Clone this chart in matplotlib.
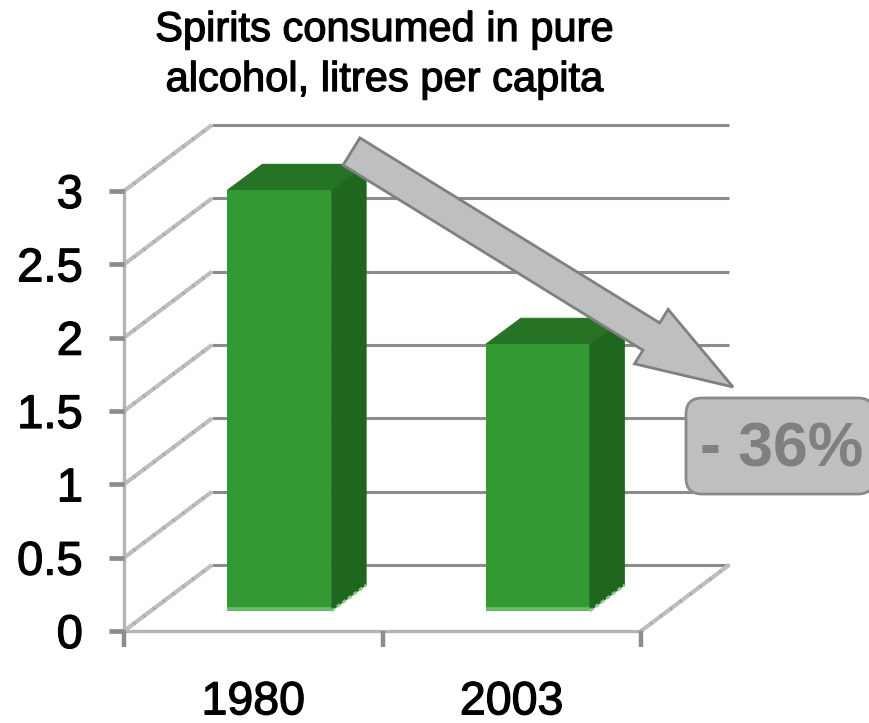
import matplotlib
matplotlib.use("Agg")
import matplotlib.pyplot as plt
import matplotlib.patheffects as pe
from matplotlib.patches import FancyArrow, FancyBboxPatch, Polygon
from matplotlib.transforms import Affine2D

years = ["1980", "2003"]
spirits_litres = [2.87, 1.82]
y_ticks = [0, 0.5, 1, 1.5, 2, 2.5, 3]
y_labels = ["0", "0.5", "1", "1.5", "2", "2.5", "3"]
title_lines = ["Spirits consumed in pure", "alcohol, litres per capita"]
change_text = "- 36%"

W, H = 869, 723
plt.rcParams["font.family"] = ["Liberation Sans", "DejaVu Sans"]
fig = plt.figure(figsize=(W / 100, H / 100), dpi=100, facecolor="white")
ax = fig.add_axes([124 / W, 1 - 631 / H, (641 - 124) / W, (631 - 191) / H])
ax.set_xlim(0, 2)
ax.set_ylim(0, 3)
ax.patch.set_alpha(0)

# Oblique offsets of the chart walls and of the bars, in data units
wall_dx, wall_dy = 2 * 88 / 517, 3 * 66 / 440
bar_dx, bar_dy = 2 * 35 / 517, 3 * 26 / 440
bar_width = 2 * 104 / 517
bar_shift = 2 * 26 / 517
bar_floor = 3 * 20 / 440

GRID = "#8c8c8c"
WALL = "#bebebe"
FRONT, SIDE, TOP = "#339933", "#1f661f", "#267326"


def wall_edge(x0, y0):
    """Draw one hatched oblique edge of the chart's side wall or floor."""
    xs, ys = [x0, x0 + wall_dx], [y0, y0 + wall_dy]
    ax.plot(xs, ys, color=WALL, lw=3.0, clip_on=False, zorder=1.1, solid_capstyle="butt")
    ax.plot(xs, ys, color="#a4a4a4", lw=2.6, clip_on=False, zorder=1.2, dashes=(0.4, 3))


for v in y_ticks:
    ax.plot([wall_dx, 2 + wall_dx], [v + wall_dy] * 2, color=GRID,
            lw=2.2, clip_on=False, zorder=1, solid_capstyle="butt")
    wall_edge(0, v)
wall_edge(2, 0)

centers = [i + 0.5 + bar_shift for i in range(len(years))]
ax.bar(centers, spirits_litres, width=bar_width, bottom=bar_floor, color=FRONT, zorder=3,
       clip_on=False)
for c, v in zip(centers, spirits_litres):
    l, r = c - bar_width / 2, c + bar_width / 2
    t = bar_floor + v
    ax.add_patch(Polygon([(r, bar_floor), (r + bar_dx, bar_floor + bar_dy),
                          (r + bar_dx, t + bar_dy), (r, t)], fc=SIDE, ec=SIDE, lw=0.4,
                         clip_on=False, zorder=3))
    ax.add_patch(Polygon([(l, t), (l + bar_dx, t + bar_dy), (r + bar_dx, t + bar_dy), (r, t)],
                         fc=TOP, ec=TOP, lw=0.4, clip_on=False, zorder=2.9))
    # Pale lower rim of the bar
    ax.plot([l, r], [bar_floor + 0.012] * 2, color="#6dbb6d", lw=2.6, zorder=3.2,
            solid_capstyle="butt")
    ax.plot([r, r + bar_dx], [bar_floor, bar_floor + bar_dy], color="#8cc98c", lw=2,
            zorder=3.2, dashes=(1.5, 1))

for side in ("top", "right"):
    ax.spines[side].set_visible(False)
for side in ("left", "bottom"):
    ax.spines[side].set_color("#b4b4b4")
    ax.spines[side].set_linewidth(2.4)
    ax.spines[side].set_zorder(1.5)

soft = [pe.withStroke(linewidth=0.9, foreground="black")]
ax.set_yticks(y_ticks, y_labels, fontsize=34)
ax.set_xticks([0, 1, 2], ["", "", ""])
ax.set_xticks([0.5, 1.5], years, minor=True, fontsize=33.5)
ax.tick_params(axis="y", length=11, width=3.4, color=GRID, pad=18.5)
ax.tick_params(axis="x", which="major", length=11.5, width=3.2, color=GRID)
ax.tick_params(axis="x", which="minor", length=0, pad=35.5)
for label in ax.get_yticklabels() + ax.get_xticklabels(minor=True):
    label.set_path_effects(soft)

# Pixel-based layer for the callout shapes
layout = Affine2D().scale(1 / W, -1 / H).translate(0, 1) + fig.transFigure
fig.add_artist(FancyArrow(351.5, 151.5, 733 - 351.5, 387 - 151.5, width=32, head_width=64,
                          head_length=96, length_includes_head=True, fc="#bfbfbf",
                          ec="#808080", lw=2, transform=layout, zorder=5))
fig.add_artist(FancyBboxPatch((686 + 16, 398 + 16), 188 - 32, 96 - 32,
                              boxstyle="round,pad=16,rounding_size=16", fc="#bfbfbf",
                              ec="#8a8a8a", lw=2, transform=layout, zorder=5))
fig.text(781.5 / W, 1 - 450 / H, change_text, fontsize=45, fontweight="bold", color="#808080",
         ha="center", va="center", zorder=6)
for line, y_px in zip(title_lines, (30, 80)):
    fig.text(384 / W, 1 - y_px / H, line, fontsize=30, ha="center", va="center",
             path_effects=soft, zorder=6)

fig.savefig("out.png", dpi=100, facecolor="white")
